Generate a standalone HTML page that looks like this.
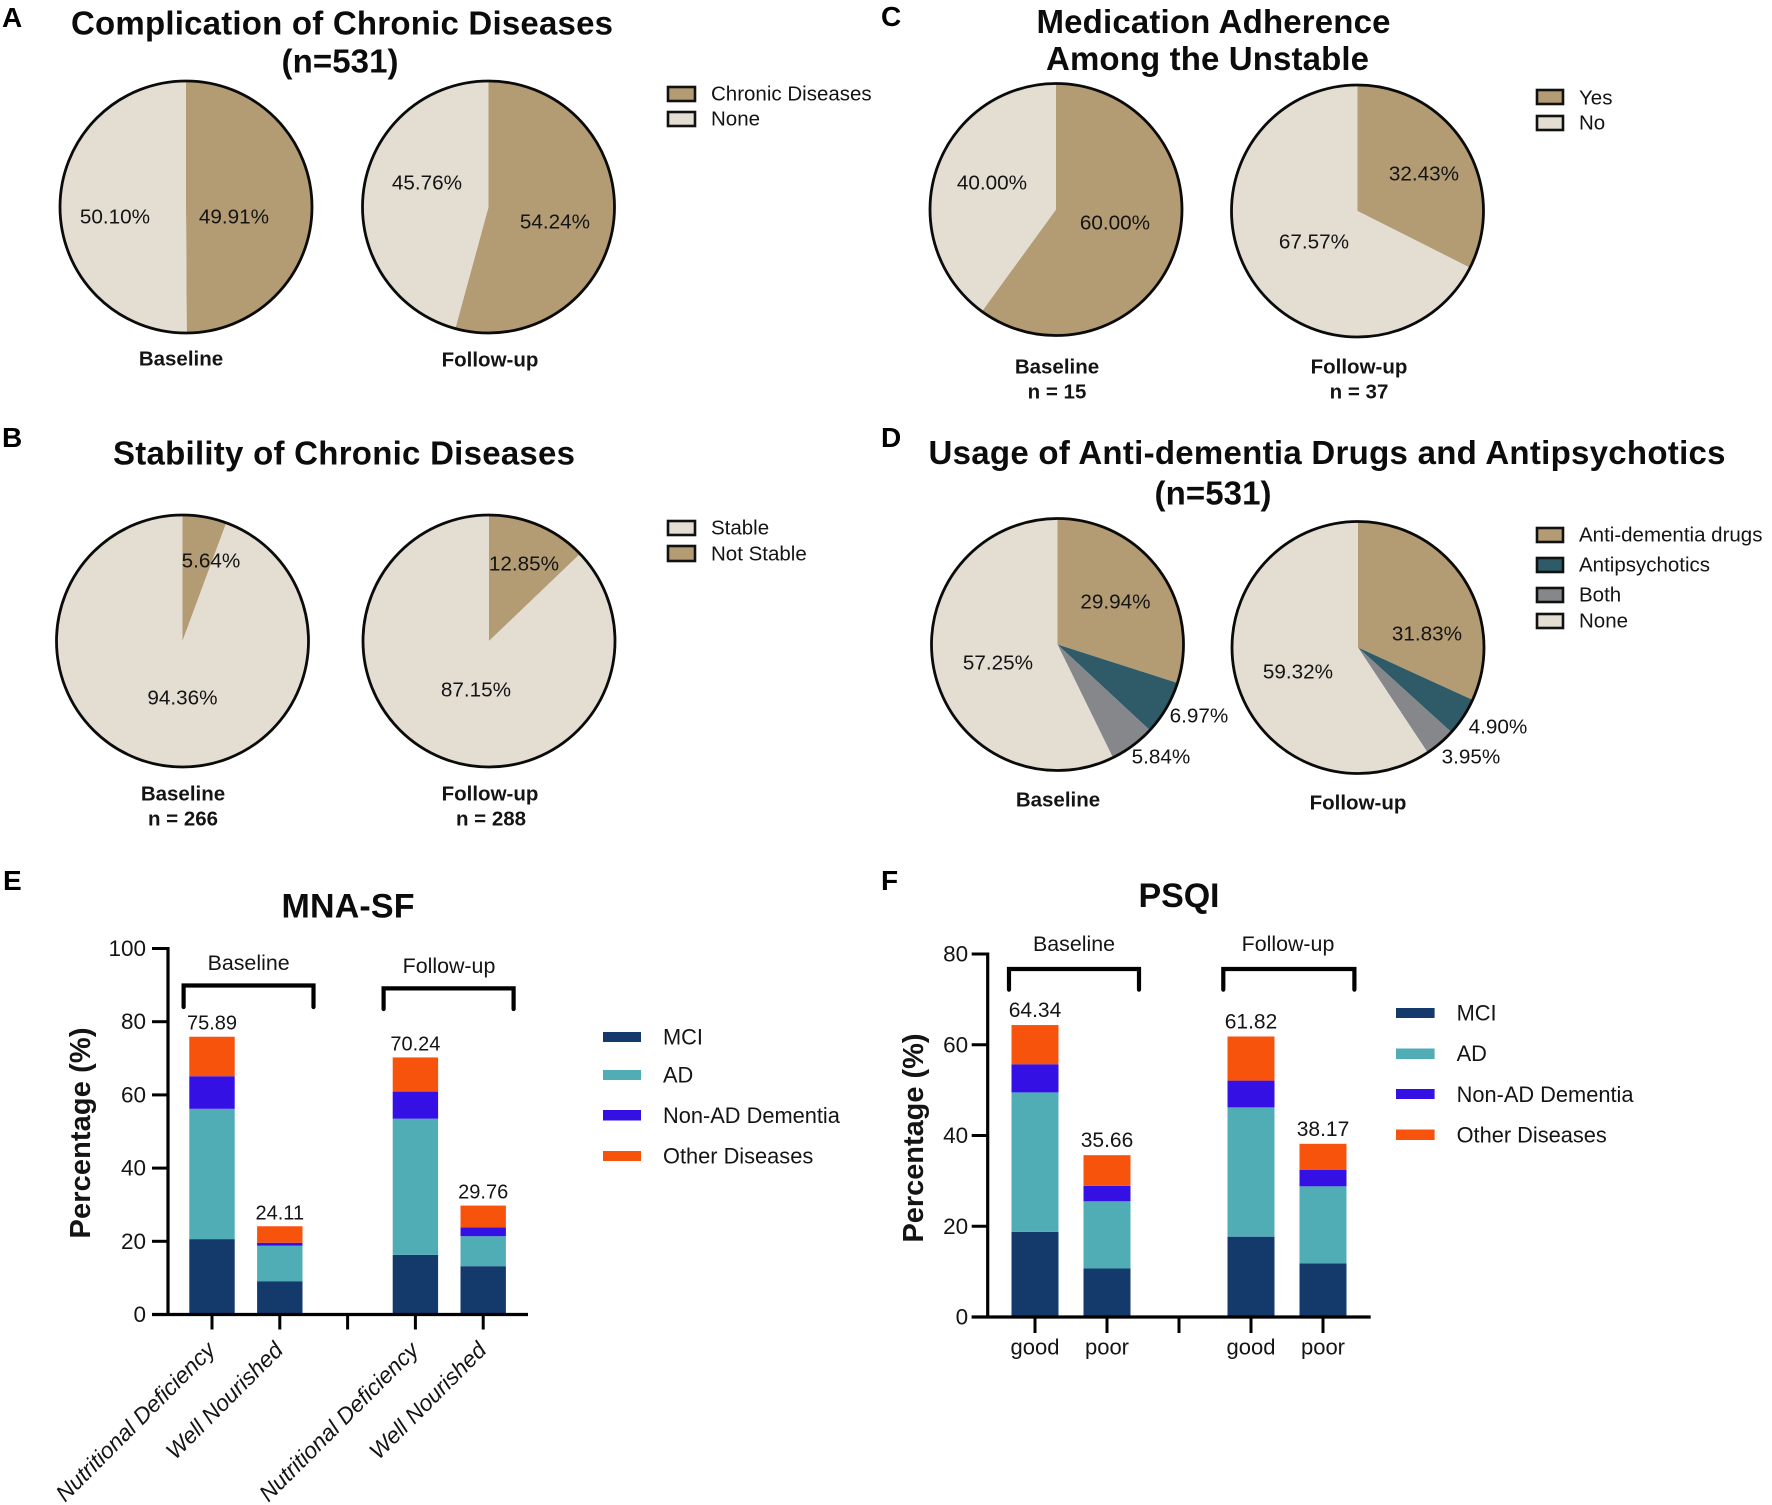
<!DOCTYPE html>
<html lang="en">
<head>
<meta charset="utf-8">
<title>Chronic diseases, medication, nutrition and sleep charts</title>
<style>
html,body{margin:0;padding:0;background:#fff;}
svg{display:block;font-family:"Liberation Sans",sans-serif;fill:#141414;}
.panel-letter{font-size:28px;font-weight:700;fill:#000;}
.title{font-size:33px;font-weight:700;fill:#0c0c0c;text-anchor:middle;dominant-baseline:central;}
.sub{font-size:20.5px;font-weight:700;text-anchor:middle;dominant-baseline:central;}
.val{font-size:20.7px;text-anchor:middle;dominant-baseline:central;}
.leg{font-size:20.5px;dominant-baseline:central;}
.leg-wide{font-size:21.8px;dominant-baseline:central;}
.swatch{stroke:#111;stroke-width:2.6;}
.bracket{fill:none;stroke:#000;stroke-width:4.2;stroke-linecap:round;stroke-linejoin:miter;}
.group{font-size:21.4px;text-anchor:middle;dominant-baseline:central;}
.ytitle{font-size:29px;font-weight:700;text-anchor:middle;dominant-baseline:central;}
.bartitle{font-size:34px;font-weight:700;text-anchor:middle;dominant-baseline:central;fill:#0c0c0c;}
</style>
</head>
<body>
<svg id="figure" xmlns="http://www.w3.org/2000/svg" width="1772" height="1505" viewBox="0 0 1772 1505">
  <rect x="0" y="0" width="1772" height="1505" fill="#ffffff"/>

  <!-- Panel A -->
  <text class="panel-letter" x="2" y="27">A</text>
  <text class="title" x="342" y="23" textLength="542">Complication of Chronic Diseases</text>
  <text class="title" x="340" y="61" textLength="117">(n=531)</text>
  <text class="sub" x="181" y="359">Baseline</text>
  <text class="sub" x="490" y="360">Follow-up</text>
  <g>
    <rect class="swatch" x="668" y="87" width="27" height="14" fill="#b39c73"/>
    <text class="leg" x="711" y="94">Chronic Diseases</text>
    <rect class="swatch" x="668" y="112" width="27" height="14" fill="#e3ddd2"/>
    <text class="leg" x="711" y="119">None</text>
  </g>

  <!-- Panel B -->
  <text class="panel-letter" x="2" y="447">B</text>
  <text class="title" x="344" y="453" textLength="462">Stability of Chronic Diseases</text>
  <text class="sub" x="183" y="794">Baseline</text>
  <text class="sub" x="183" y="819">n = 266</text>
  <text class="sub" x="490" y="794">Follow-up</text>
  <text class="sub" x="491" y="819">n = 288</text>
  <g>
    <rect class="swatch" x="668" y="521" width="27" height="14" fill="#e3ddd2"/>
    <text class="leg" x="711" y="528">Stable</text>
    <rect class="swatch" x="668" y="546" width="27" height="15" fill="#b39c73"/>
    <text class="leg" x="711" y="554">Not Stable</text>
  </g>

  <!-- Panel C -->
  <text class="panel-letter" x="881" y="26">C</text>
  <text class="title" x="1213.5" y="21.5" textLength="354">Medication Adherence</text>
  <text class="title" x="1207.5" y="58.5" textLength="323">Among the Unstable</text>
  <text class="sub" x="1057" y="367">Baseline</text>
  <text class="sub" x="1057" y="392">n = 15</text>
  <text class="sub" x="1359" y="367">Follow-up</text>
  <text class="sub" x="1359" y="392">n = 37</text>
  <g>
    <rect class="swatch" x="1537" y="90" width="26" height="14" fill="#b39c73"/>
    <text class="leg" x="1579" y="98">Yes</text>
    <rect class="swatch" x="1537" y="116" width="26" height="14" fill="#e3ddd2"/>
    <text class="leg" x="1579" y="123">No</text>
  </g>

  <!-- Panel D -->
  <text class="panel-letter" x="881" y="447">D</text>
  <text class="title" x="1327" y="452.5" textLength="797">Usage of Anti-dementia Drugs and Antipsychotics</text>
  <text class="title" x="1213" y="493" textLength="117">(n=531)</text>
  <text class="sub" x="1058" y="800">Baseline</text>
  <text class="sub" x="1358" y="803">Follow-up</text>
  <g>
    <rect class="swatch" x="1537" y="528" width="26" height="14" fill="#b39c73"/>
    <text class="leg" x="1579" y="535">Anti-dementia drugs</text>
    <rect class="swatch" x="1537" y="558" width="26" height="14" fill="#2f5a68"/>
    <text class="leg" x="1579" y="565">Antipsychotics</text>
    <rect class="swatch" x="1537" y="588" width="26" height="14" fill="#86878a"/>
    <text class="leg" x="1579" y="595">Both</text>
    <rect class="swatch" x="1537" y="614" width="26" height="14" fill="#e3ddd2"/>
    <text class="leg" x="1579" y="621">None</text>
  </g>

  <!-- Panel E -->
  <text class="panel-letter" x="3" y="890">E</text>
  <text class="bartitle" x="348" y="906.5" textLength="133">MNA-SF</text>
  <text class="ytitle" transform="translate(81 1133) rotate(-90)" textLength="211">Percentage (%)</text>
  <text class="group" x="248.6" y="963">Baseline</text>
  <path class="bracket" d="M183.6 1007V985.5H313.5V1007"/>
  <text class="group" x="449" y="966">Follow-up</text>
  <path class="bracket" d="M383.6 1009V988.4H513.6V1009"/>
  <g>
    <rect x="603" y="1032" width="38" height="10" fill="#133a6b"/>
    <text class="leg-wide" x="663" y="1037">MCI</text>
    <rect x="603" y="1070" width="38" height="10" fill="#50adb5"/>
    <text class="leg-wide" x="663" y="1075">AD</text>
    <rect x="603" y="1110" width="38" height="10.5" fill="#3410e4"/>
    <text class="leg-wide" x="663" y="1115.5">Non-AD Dementia</text>
    <rect x="603" y="1151" width="38" height="10" fill="#f7530d"/>
    <text class="leg-wide" x="663" y="1156">Other Diseases</text>
  </g>

  <!-- Panel F -->
  <text class="panel-letter" x="881" y="890">F</text>
  <text class="bartitle" x="1179" y="896" textLength="81">PSQI</text>
  <text class="ytitle" transform="translate(914 1138) rotate(-90)" textLength="209">Percentage (%)</text>
  <text class="group" x="1074" y="944">Baseline</text>
  <path class="bracket" d="M1009 989.6V969H1139V989.6"/>
  <text class="group" x="1288" y="944">Follow-up</text>
  <path class="bracket" d="M1223.3 989.6V969H1354.4V989.6"/>
  <g>
    <rect x="1396" y="1008" width="38.6" height="10" fill="#133a6b"/>
    <text class="leg-wide" x="1456.6" y="1013">MCI</text>
    <rect x="1396" y="1048.5" width="38.6" height="10.5" fill="#50adb5"/>
    <text class="leg-wide" x="1456.6" y="1053.4">AD</text>
    <rect x="1396" y="1089" width="38.6" height="10" fill="#3410e4"/>
    <text class="leg-wide" x="1456.6" y="1094.6">Non-AD Dementia</text>
    <rect x="1396" y="1129.5" width="38.6" height="10.5" fill="#f7530d"/>
    <text class="leg-wide" x="1456.6" y="1135">Other Diseases</text>
  </g>
</svg>

<script>
// Pie chart values (percent), in clockwise slice order from 12 o'clock
const complicationBaseline = [49.91, 50.10];
const complicationFollowUp = [54.24, 45.76];
const stabilityBaseline = [5.64, 94.36];
const stabilityFollowUp = [12.85, 87.15];
const adherenceBaseline = [60.00, 40.00];
const adherenceFollowUp = [32.43, 67.57];
const drugsBaseline = [29.94, 6.97, 5.84, 57.25];
const drugsFollowUp = [31.83, 4.90, 3.95, 59.32];

// MNA-SF stacked bars (the third slot is the empty gap between groups)
const mnaCategories = ['Nutritional Deficiency', 'Well Nourished', '', 'Nutritional Deficiency', 'Well Nourished'];
const mnaMCI = [20.6, 9.1, 0, 16.3, 13.2];
const mnaAD = [35.6, 9.7, 0, 37.2, 8.2];
const mnaNonAD = [8.9, 0.8, 0, 7.4, 2.4];
const mnaOther = [10.79, 4.51, 0, 9.34, 5.96];
const mnaTicks = [0, 20, 40, 60, 80, 100];

// PSQI stacked bars
const psqiCategories = ['good', 'poor', '', 'good', 'poor'];
const psqiMCI = [18.75, 10.7, 0, 17.7, 11.8];
const psqiAD = [30.75, 14.8, 0, 28.5, 17.0];
const psqiNonAD = [6.2, 3.4, 0, 5.9, 3.6];
const psqiOther = [8.64, 6.76, 0, 9.72, 5.77];
const psqiTicks = [0, 20, 40, 60, 80];

const TAN = '#b39c73', LIGHT = '#e3ddd2', DEEP = '#2f5a68', GRAY = '#86878a';
const SERIES_COLORS = ['#133a6b', '#50adb5', '#3410e4', '#f7530d'];
const SERIES_NAMES = ['mci', 'ad', 'non-ad', 'other'];
const NS = 'http://www.w3.org/2000/svg';
const root = document.getElementById('figure');

function node(tag, attrs, parent) {
  const n = document.createElementNS(NS, tag);
  for (const k in attrs) n.setAttribute(k, attrs[k]);
  (parent || root).appendChild(n);
  return n;
}

function drawPie(name, values, colors, cx, cy, r, labelSpots) {
  const g = node('g', {});
  
  
  const total = values.reduce((a, b) => a + b, 0);
  const angleScale = v => v / total * 2 * Math.PI;
  let cumulative = 0;
  values.forEach((v, i) => {
    const a0 = angleScale(cumulative);
    const a1 = angleScale(cumulative + v);
    cumulative += v;
    const large = a1 - a0 > Math.PI ? 1 : 0;
    const d = 'M' + cx + ' ' + cy +
      'L' + (cx + r * Math.sin(a0)) + ' ' + (cy - r * Math.cos(a0)) +
      'A' + r + ' ' + r + ' 0 ' + large + ' 1 ' + (cx + r * Math.sin(a1)) + ' ' + (cy - r * Math.cos(a1)) + 'Z';
    const slice = node('path', { d: d, fill: colors[i] }, g);
    
    
  });
  const ring = node('circle', { cx: cx, cy: cy, r: r, fill: 'none', stroke: '#0b0b0b', 'stroke-width': 2.8 }, g);
  
  
  values.forEach((v, i) => {
    const t = node('text', { class: 'val', x: labelSpots[i][0], y: labelSpots[i][1] }, g);
    
    
    t.textContent = v.toFixed(2) + '%';
  });
}

drawPie('pie-complication-baseline', complicationBaseline, [TAN, LIGHT], 186, 207, 126, [[234, 217], [115, 217]]);
drawPie('pie-complication-follow-up', complicationFollowUp, [TAN, LIGHT], 488.5, 207, 126, [[555, 222], [427, 183]]);
drawPie('pie-stability-baseline', stabilityBaseline, [TAN, LIGHT], 182.5, 641, 126, [[211, 561], [182.5, 698]]);
drawPie('pie-stability-follow-up', stabilityFollowUp, [TAN, LIGHT], 489, 641, 126, [[524, 564], [476, 690]]);
drawPie('pie-adherence-baseline', adherenceBaseline, [TAN, LIGHT], 1056, 209.5, 126, [[1115, 223], [992, 183]]);
drawPie('pie-adherence-follow-up', adherenceFollowUp, [TAN, LIGHT], 1357.5, 211, 126, [[1424, 174], [1314, 242]]);
drawPie('pie-drugs-baseline', drugsBaseline, [TAN, DEEP, GRAY, LIGHT], 1057.5, 644.5, 126, [[1115.5, 602], [1199, 716], [1161, 757], [998, 663]]);
drawPie('pie-drugs-follow-up', drugsFollowUp, [TAN, DEEP, GRAY, LIGHT], 1358, 647.5, 126, [[1427, 634], [1498, 727], [1471, 757], [1298, 672]]);

function drawStack(cfg) {
  const g = node('g', {});
  
  
  const yScale = v => cfg.y0 - (v - 0) * (cfg.y0 - cfg.yTop) / cfg.yMax;
  const xScale = i => cfg.x0 + i * cfg.step;

  cfg.categories.forEach((cat, i) => {
    let base = 0;
    cfg.series.forEach((s, k) => {
      if (s[i] <= 0) return;
      const top = base + s[i];
      const bar = node('rect', {
        x: xScale(i) - cfg.barW / 2, y: yScale(top), width: cfg.barW,
        height: yScale(base) - yScale(top), fill: SERIES_COLORS[k]
      }, g);
      
      
      base = top;
    });
    if (base > 0) {
      const lab = node('text', {
        x: xScale(i), y: yScale(base) - cfg.labelGap, 'text-anchor': 'middle',
        'dominant-baseline': 'central', 'font-size': cfg.labelSize
      }, g);
      
      
      lab.textContent = base.toFixed(2);
    }
  });

  const yAxis = node('line', { x1: cfg.axisX, x2: cfg.axisX, y1: yScale(cfg.yMax) - 1.5, y2: cfg.y0 + 1.5, stroke: '#000', 'stroke-width': 3.2 }, g);
  
  
  const xAxis = node('line', { x1: cfg.axisX - 16, x2: cfg.xEnd, y1: cfg.y0, y2: cfg.y0, stroke: '#000', 'stroke-width': 3.2 }, g);
  
  

  cfg.ticks.forEach(v => {
    const tick = node('line', { x1: cfg.axisX - 16, x2: cfg.axisX, y1: yScale(v), y2: yScale(v), stroke: '#000', 'stroke-width': 3 }, g);
    
    
    const lab = node('text', {
      x: cfg.axisX - cfg.tickGap, y: yScale(v), 'text-anchor': 'end',
      'dominant-baseline': 'central', 'font-size': 22.5
    }, g);
    
    
    lab.textContent = v;
  });

  cfg.categories.forEach((cat, i) => {
    const tick = node('line', { x1: xScale(i), x2: xScale(i), y1: cfg.y0, y2: cfg.y0 + cfg.xTickLen, stroke: '#000', 'stroke-width': 3 }, g);
    
    
    if (!cat) return;
    const attrs = cfg.rotated
      ? { x: xScale(i) + 4.5, y: cfg.y0 + 37, 'text-anchor': 'end', 'font-size': 22.8, 'font-style': 'italic',
          transform: 'rotate(-45 ' + (xScale(i) + 4.5) + ' ' + (cfg.y0 + 37) + ')' }
      : { x: xScale(i), y: cfg.y0 + 30, 'text-anchor': 'middle', 'dominant-baseline': 'central', 'font-size': 22 };
    const lab = node('text', attrs, g);
    
    
    lab.textContent = cat;
  });
}

drawStack({
  name: 'chart-mna-sf', categories: mnaCategories, series: [mnaMCI, mnaAD, mnaNonAD, mnaOther], ticks: mnaTicks,
  yMax: 100, y0: 1314.5, yTop: 948.5, x0: 212, step: 67.8, barW: 45.4, axisX: 168, xEnd: 528,
  tickGap: 22, xTickLen: 15, labelGap: 13, labelSize: 20, rotated: true
});
drawStack({
  name: 'chart-psqi', categories: psqiCategories, series: [psqiMCI, psqiAD, psqiNonAD, psqiOther], ticks: psqiTicks,
  yMax: 80, y0: 1317, yTop: 954, x0: 1035, step: 72, barW: 47, axisX: 987.7, xEnd: 1370.7,
  tickGap: 19.5, xTickLen: 16, labelGap: 14.5, labelSize: 21, rotated: false
});
</script>
</body>
</html>
